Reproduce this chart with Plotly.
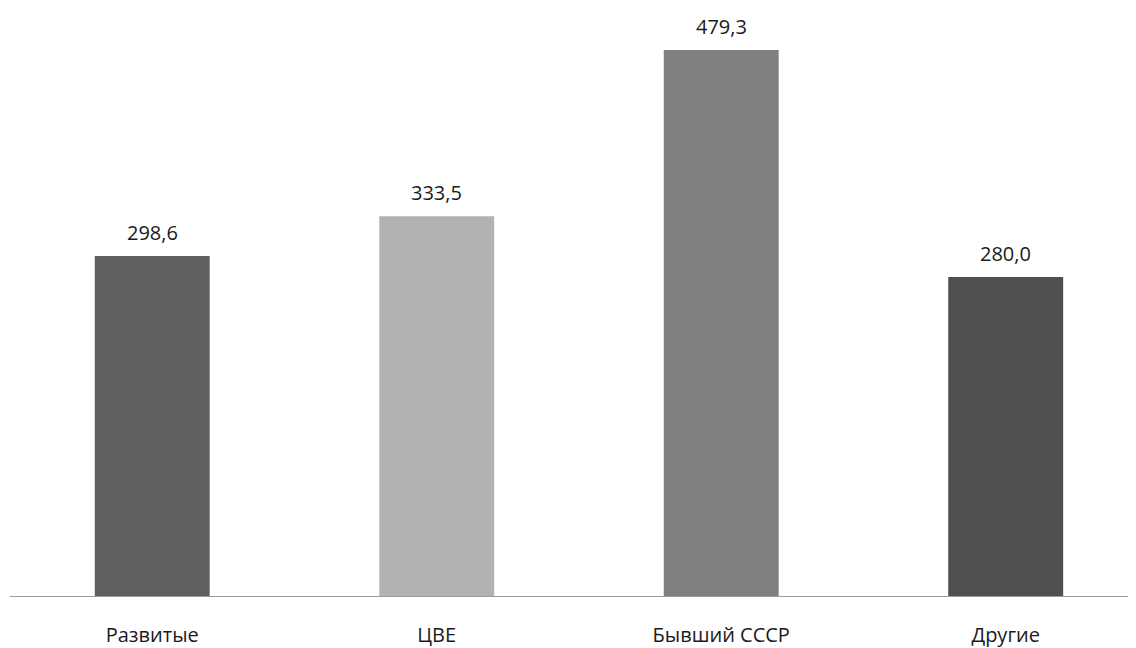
import plotly.graph_objects as go

categories = ["Развитые", "ЦВЕ", "Бывший СССР", "Другие"]
values = [298.6, 333.5, 479.3, 280.0]
labels = ["298,6", "333,5", "479,3", "280,0"]
colors = ["#606060", "#b2b2b2", "#808080", "#505050"]

FONT = "Open Sans"

fig = go.Figure()
fig.add_trace(go.Bar(
    x=list(range(len(categories))), y=values,
    marker=dict(color=colors, line=dict(width=0)),
    width=0.404, hoverinfo="skip"
))
for i, (v, t) in enumerate(zip(values, labels)):
    fig.add_annotation(x=i, y=v, text=t, showarrow=False, yanchor="bottom",
                       yshift=8, font=dict(family=FONT, size=20, color="#1a1a1a"))

fig.update_layout(
    width=1128, height=640,
    margin=dict(l=2, r=0, t=2, b=52),
    paper_bgcolor="white", plot_bgcolor="white",
    showlegend=False,
    font=dict(family=FONT, size=20, color="#1a1a1a"),
    xaxis=dict(range=[-0.5, 3.458], tickmode="array",
               tickvals=list(range(len(categories))), ticktext=categories,
               showline=True, linecolor="#9a9a9a", linewidth=1.2,
               ticks="outside", ticklen=21, tickcolor="rgba(0,0,0,0)",
               showgrid=False, zeroline=False, fixedrange=True),
    yaxis=dict(range=[0, 514.5], visible=False, showgrid=False, zeroline=False),
)
fig.write_html("out.html")
